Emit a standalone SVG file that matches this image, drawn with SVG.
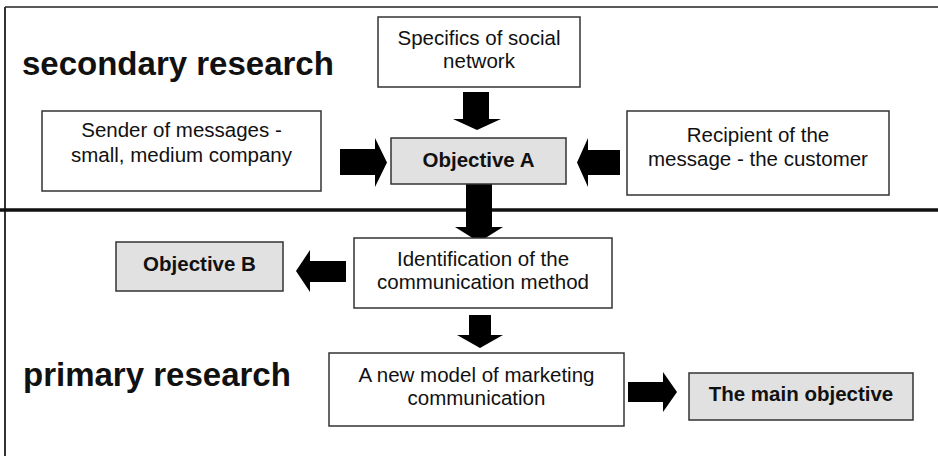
<svg xmlns="http://www.w3.org/2000/svg" width="938" height="456" viewBox="0 0 938 456">
<style>
.box{fill:#ffffff;stroke:#333333;stroke-width:1.5}
.goal{fill:#e1e1e1;stroke:#333333;stroke-width:1.5}
.t{font-family:"Liberation Sans",Arial,sans-serif;font-size:20.5px;fill:#111111;text-anchor:middle}
.b{font-family:"Liberation Sans",Arial,sans-serif;font-size:20.5px;font-weight:bold;fill:#111111;text-anchor:middle}
.h{font-family:"Liberation Sans",Arial,sans-serif;font-size:33px;font-weight:bold;fill:#111111}
.arr{fill:#000000}
</style>
<rect x="0" y="0" width="938" height="456" fill="#ffffff"/>
<g id="frame">
<line x1="5" y1="7" x2="938" y2="7" stroke="#222222" stroke-width="1.5"/>
<line x1="5" y1="7" x2="5" y2="456" stroke="#333333" stroke-width="2"/>
<line x1="0" y1="210" x2="938" y2="210" stroke="#111111" stroke-width="3.5"/>
</g>
<g id="labels">
<text class="h" x="22" y="75">secondary research</text>
<text class="h" x="23" y="386">primary research</text>
</g>
<g id="connectors">
<polygon class="arr" points="463,92 489,92 489,119 501,119 477,130 453,119 463,119"/>
<polygon class="arr" points="340,149 375,149 375,138 387,162.5 375,187 375,175 340,175"/>
<polygon class="arr" points="620,150 588,150 588,138 577,162.5 588,187 588,175 620,175"/>
<polygon class="arr" points="466,184 492,184 492,227 503,227 479,242 455,227 466,227"/>
<polygon class="arr" points="346,261 310,261 310,250 296,271 310,292 310,282 346,282"/>
<polygon class="arr" points="469,315 491,315 491,335 503,335 480,348 457,335 469,335"/>
<polygon class="arr" points="628,382 663,382 663,372 677,392 663,412 663,402 628,402"/>
</g>
<g id="specifics">
<rect class="box" x="378" y="17" width="202" height="70"/>
<text class="t" x="479" y="45">Specifics of social</text>
<text class="t" x="479" y="68">network</text>
</g>
<g id="sender">
<rect class="box" x="42" y="111" width="279" height="80"/>
<text class="t" x="181.5" y="137">Sender of messages -</text>
<text class="t" x="181.5" y="162">small, medium company</text>
</g>
<g id="objectiveA">
<rect class="goal" x="391" y="138" width="175" height="46"/>
<text class="b" x="478.5" y="167">Objective A</text>
</g>
<g id="recipient">
<rect class="box" x="627" y="111" width="262" height="84"/>
<text class="t" x="758" y="142">Recipient of the</text>
<text class="t" x="758" y="166">message - the customer</text>
</g>
<g id="objectiveB">
<rect class="goal" x="116" y="242" width="167" height="49"/>
<text class="b" x="199.5" y="271">Objective B</text>
</g>
<g id="identification">
<rect class="box" x="354" y="238" width="258" height="70"/>
<text class="t" x="483" y="266">Identification of the</text>
<text class="t" x="483" y="289">communication method</text>
</g>
<g id="newmodel">
<rect class="box" x="329" y="353" width="295" height="73"/>
<text class="t" x="476.5" y="382">A new model of marketing</text>
<text class="t" x="476.5" y="405">communication</text>
</g>
<g id="mainobjective">
<rect class="goal" x="689" y="373" width="224" height="47"/>
<text class="b" x="801" y="401">The main objective</text>
</g>
</svg>
